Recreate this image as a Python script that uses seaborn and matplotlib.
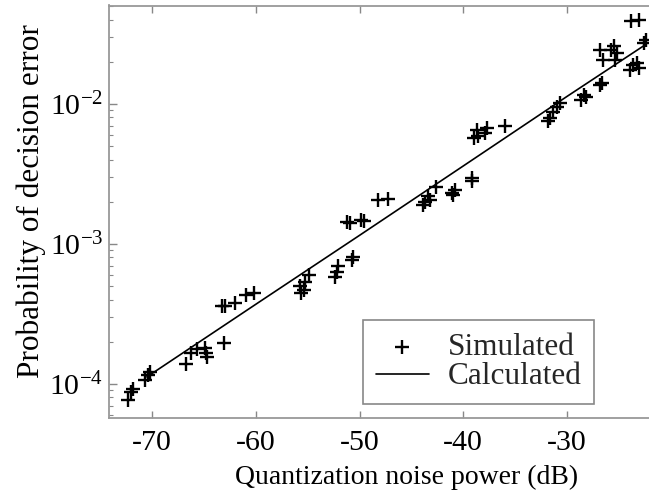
import numpy as np
import pandas as pd
import matplotlib
matplotlib.use("Agg")
import matplotlib.pyplot as plt
import matplotlib.ticker as mticker
import seaborn as sns

# Simulated points (quantization noise power in dB, probability of decision error)
sim_x = [-72.3, -72.0, -71.8, -70.7, -70.4, -70.2, -66.7, -66.2, -65.7, -64.9, -64.8, -64.7,
         -63.1, -63.3, -63.0, -62.0, -60.9, -60.2, -55.7, -55.4, -55.6, -55.3, -54.9,
         -52.4, -52.2, -52.1, -50.7, -50.6, -51.2, -50.9, -49.9, -49.6, -48.2, -47.3,
         -43.9, -43.7, -43.4, -43.2, -42.6, -41.1, -40.8, -41.0, -39.2, -39.2,
         -39.0, -38.7, -38.6, -37.9, -37.7, -36.0,
         -31.8, -31.6, -31.4, -31.0, -30.7, -28.7, -28.4, -28.2, -26.8, -26.6,
         -26.8, -26.5, -25.8, -25.5, -25.2, -25.4, -23.9, -23.6, -23.3, -23.1,
         -23.8, -23.1, -22.6, -22.4]
sim_y = [7.7e-5, 8.8e-5, 9.2e-5, 1.07e-4, 1.16e-4, 1.22e-4, 1.39e-4, 1.66e-4, 1.78e-4, 1.81e-4, 1.66e-4, 1.56e-4,
         1.97e-4, 3.62e-4, 3.6e-4, 3.79e-4, 4.32e-4, 4.45e-4, 4.96e-4, 4.69e-4, 4.47e-4, 5.35e-4, 6.0e-4,
         5.83e-4, 6.34e-4, 6.89e-4, 7.69e-4, 8.03e-4, 1.44e-3, 1.40e-3, 1.48e-3, 1.45e-3, 2.06e-3, 2.09e-3,
         1.9e-3, 2.0e-3, 2.18e-3, 2.06e-3, 2.56e-3, 2.3e-3, 2.43e-3, 2.24e-3, 2.94e-3, 2.79e-3,
         5.69e-3, 6.52e-3, 5.9e-3, 6.18e-3, 6.7e-3, 6.96e-3,
         7.56e-3, 7.9e-3, 8.8e-3, 9.57e-3, 1.01e-2, 1.07e-2, 1.16e-2, 1.12e-2, 1.37e-2, 1.42e-2,
         2.43e-2, 2.06e-2, 2.43e-2, 2.57e-2, 2.3e-2, 2.06e-2, 1.75e-2, 1.9e-2, 1.95e-2, 1.8e-2,
         3.92e-2, 3.98e-2, 2.72e-2, 2.86e-2]

# Calculated curve
calc_x = [-70.5, -60.0, -50.0, -40.0, -30.0, -22.6]
calc_y = [1.12e-4, 3.7e-4, 1.15e-3, 3.6e-3, 1.13e-2, 2.6e-2]

x_ticks = [-70, -60, -50, -40, -30]
y_ticks = [1e-4, 1e-3, 1e-2]

sns.set_theme(style="white")
plt.rcParams["font.family"] = ["Liberation Serif", "DejaVu Serif"]
plt.rcParams["mathtext.fontset"] = "custom"
plt.rcParams["mathtext.rm"] = "Liberation Serif"
plt.rcParams["mathtext.it"] = "Liberation Serif:italic"
plt.rcParams["mathtext.bf"] = "Liberation Serif:bold"
plt.rcParams["axes.unicode_minus"] = False

sim_df = pd.DataFrame({"x": sim_x, "y": sim_y})
calc_df = pd.DataFrame({"x": calc_x, "y": calc_y})

fig = plt.figure(figsize=(6.49, 4.95), dpi=100)
ax = fig.add_axes([109 / 649, 1 - 418 / 495, 1 - 109 / 649, (418 - 5.5) / 495])

sns.scatterplot(data=sim_df, x="x", y="y", marker="+", s=105, color="black",
                linewidth=1.7, ax=ax, label="Simulated", zorder=3)
sns.lineplot(data=calc_df, x="x", y="y", color="black", linewidth=1.2, ax=ax,
             label="Calculated", zorder=2)

ax.set_yscale("log")
ax.set_xlim(-74.15, -22.1)
ax.set_ylim(5.7e-5, 0.0504)
ax.set_xticks(x_ticks)
ax.set_xticklabels([str(t) for t in x_ticks])
ax.yaxis.set_major_locator(mticker.FixedLocator(y_ticks))
ax.yaxis.set_major_formatter(mticker.LogFormatterMathtext())
ax.yaxis.set_minor_locator(mticker.LogLocator(base=10, subs=np.arange(2, 10), numticks=20))
ax.yaxis.set_minor_formatter(mticker.NullFormatter())

ax.tick_params(axis="both", which="both", direction="in", colors="#888888",
               labelcolor="black", labelsize=21.5)
ax.tick_params(axis="x", which="major", length=5, width=1, top=True, bottom=True, pad=9)
ax.tick_params(axis="y", which="major", length=6, width=1, left=True, right=False, pad=4)
ax.tick_params(axis="y", which="minor", length=3, width=0.8, left=True, right=False)

for name, sp in ax.spines.items():
    sp.set_color("#999999")
    sp.set_linewidth(1.3)
ax.spines["right"].set_visible(False)

ax.set_xlabel("Quantization noise power (dB)", fontsize=20, color="black")
ax.set_ylabel("Probability of decision error", fontsize=22.5, color="black")
ax.xaxis.set_label_coords((407 - 109) / 540, -(477 - 418) / 412.5, transform=ax.transAxes)
ax.xaxis.label.set_va("center")
ax.yaxis.set_label_coords(-(109 - 31) / 540, (418 - 201) / 412.5, transform=ax.transAxes)
ax.yaxis.label.set_va("center")

leg = ax.legend(loc="lower right", bbox_to_anchor=(594 / 649, 1 - 404 / 495),
                bbox_transform=fig.transFigure, fontsize=22.5, frameon=True, fancybox=False,
                borderaxespad=0, handlelength=1.7, handletextpad=0.6, labelspacing=0.02,
                borderpad=0.4, markerscale=1.0)
leg.get_frame().set_edgecolor("#888888")
leg.get_frame().set_linewidth(1.2)
leg.get_frame().set_alpha(1)

fig.savefig("out.png", dpi=100, facecolor="white")
